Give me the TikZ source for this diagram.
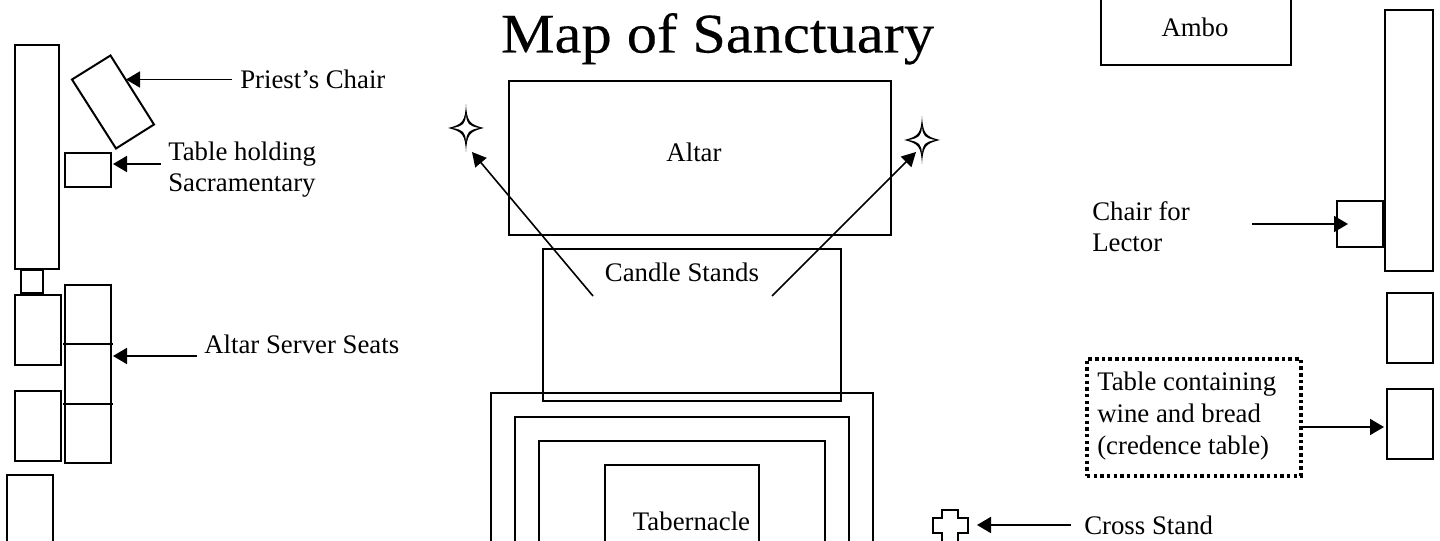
\documentclass[tikz,border=0pt]{standalone}
\usepackage{fontspec}
\setmainfont{Liberation Serif}
\newfontfamily\titlefont[FakeStretch=1.08,FakeBold=0.25]{Liberation Serif}
\usetikzlibrary{arrows.meta}
\tikzset{
  x=0.75pt,y=-0.75pt,
  shp/.style={draw=black,line width=1.5pt},
  lab/.style={inner sep=0pt,font=\fontsize{20.1pt}{23.4pt}\selectfont,align=left,anchor=west,text=black},
  arr/.style={draw=black,line width=1.4pt,-{Triangle[length=10.5pt,width=12pt]}},
  arrd/.style={draw=black,line width=1.2pt,-{Triangle[length=10.5pt,width=11pt]}},
}
\newcommand{\candlestar}[2]{%
  \fill[black] (#1,#2-24) .. controls (#1+1,#2-7) and (#1+3,#2-3.5) .. (#1+18,#2) .. controls (#1+3,#2+3.5) and (#1+1,#2+7) .. (#1,#2+24) .. controls (#1-1,#2+7) and (#1-3,#2+3.5) .. (#1-18,#2) .. controls (#1-3,#2-3.5) and (#1-1,#2-7) .. (#1,#2-24) -- cycle;
  \fill[white] (#1,#2-13) .. controls (#1+0.8,#2-4) and (#1+2.5,#2-2) .. (#1+13,#2) .. controls (#1+2.5,#2+2) and (#1+0.8,#2+4) .. (#1,#2+13) .. controls (#1-0.8,#2+4) and (#1-2.5,#2+2) .. (#1-13,#2) .. controls (#1-2.5,#2-2) and (#1-0.8,#2-4) .. (#1,#2-13) -- cycle;
}
\begin{document}
\begin{tikzpicture}
\useasboundingbox (0,0) rectangle (1440,541);
% title
\node[inner sep=0pt,anchor=base,font=\titlefont\fontsize{42pt}{48pt}\selectfont] (title) at (717.5,52.5) {Map of Sanctuary};
% left side
\draw[shp] (15,45) rectangle (59,269);
\draw[shp] (72,79.5) -- (110.5,55.5) -- (154,124.5) -- (116,148.5) -- cycle;
\draw[shp] (65,153) rectangle (111,187);
\draw[shp] (21,270) rectangle (43,293);
\draw[shp] (15,295) rectangle (61,365);
\draw[shp] (15,391) rectangle (61,461);
\draw[shp] (7,475) rectangle (53,545);
\draw[shp] (65,285) rectangle (111,463);
\draw[shp] (63,344) -- (113,344);
\draw[shp] (63,404) -- (113,404);
% left labels
\node[lab] (priest) at (240,79.5) {Priest’s Chair};
\coordinate (priestT) at (126,79.5);
\draw[arr] (232,79.5) -- (priestT);
\node[lab] (sacr) at (168,169.5) {Table holding\\Sacramentary};
\coordinate (sacrT) at (113,164);
\draw[arr] (160.5,164) -- (sacrT);
\node[lab] (servers) at (204,344) {Altar Server Seats};
\coordinate (servT) at (113,356);
\draw[arr] (197,356) -- (servT);
% centre
\draw[shp] (509,81) rectangle (891,235);
\node[lab,anchor=center] (altar) at (694,152) {Altar};
\draw[shp] (543,249) rectangle (841,401);
\node[lab,anchor=center] (candles) at (682,272) {Candle Stands};
\draw[shp] (491,545) |- (873,393) -- (873,545);
\draw[shp] (515,545) |- (849,417) -- (849,545);
\draw[shp] (539,545) |- (825,441) -- (825,545);
\draw[shp] (605,545) |- (759,465) -- (759,545);
\node[lab,anchor=center] (tab) at (691.5,521) {Tabernacle};
% stars
\candlestar{466}{128}
\candlestar{922}{140}
\coordinate (c1a) at (593,296);
\coordinate (c1b) at (472,152);
\coordinate (c2a) at (772,296);
\coordinate (c2b) at (916,152);
\draw[arrd] (c1a) -- (c1b);
\draw[arrd] (c2a) -- (c2b);
% cross
\draw[shp] (942,541) -- (942,533) -- (933,533) -- (933,518) -- (942,518) -- (942,510) -- (958,510) -- (958,518) -- (968,518) -- (968,533) -- (958,533) -- (958,541);
\node[lab] (cross) at (1084,525) {Cross Stand};
\coordinate (crossT) at (977,525);
\draw[arr] (1071,525) -- (crossT);
% right
\draw[shp] (1101,-5) rectangle (1291,65);
\node[lab,anchor=center] (ambo) at (1195,27) {Ambo};
\draw[shp] (1385,10) rectangle (1433,271);
\draw[shp] (1337,201) rectangle (1383,247);
\draw[draw=black,line width=2pt] (1384,201) -- (1384,247);
\node[lab] (lector) at (1092,227) {Chair for\\Lector};
\coordinate (lectT) at (1348,224);
\draw[arr] (1252,224) -- (lectT);
\draw[shp] (1387,293) rectangle (1433,363);
\draw[shp] (1387,389) rectangle (1433,459);
\node[draw=black,line width=2.8pt,dash pattern=on 2.6pt off 2.4pt,inner sep=0pt,minimum width=160.5pt,minimum height=87.75pt,anchor=north west] (credbox) at (1085,357) {};
\node[lab,font=\fontsize{20.1pt}{24pt}\selectfont] (cred) at (1097,416) {Table containing\\wine and bread\\(credence table)};
\coordinate (credT) at (1384,427);
\draw[arr] (credbox.east |- credT) -- (credT);
\end{tikzpicture}
\end{document}
